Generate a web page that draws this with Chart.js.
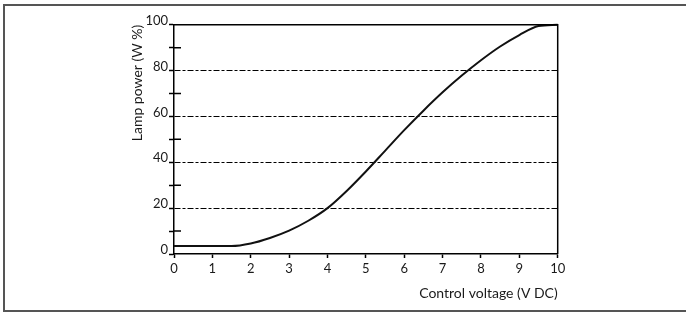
<!DOCTYPE html>
<html>
<head>
<meta charset="utf-8">
<script src="https://cdn.jsdelivr.net/npm/chart.js@4.4.1/dist/chart.umd.min.js"></script>
<style>
  body { margin: 0; background: #fff; }
  #wrap { position: relative; width: 686px; height: 313px; }
  #frame {
    position: absolute; left: 3px; top: 4px; width: 683px; height: 304px;
    border-left: 2px solid #555; border-top: 2px solid #555; border-bottom: 2px solid #555;
    pointer-events: none;
  }
</style>
</head>
<body>
<div id="wrap">
  <canvas id="myChart" width="686" height="313"></canvas>
  <div id="frame"></div>
</div>
<script>
  // data
  const voltage = [0, 1, 1.5, 2, 2.5, 3, 3.5, 4, 4.5, 5, 5.5, 6, 6.5, 7, 7.5, 8, 8.5, 9, 9.5, 10];
  const power = [3.5, 3.5, 3.5, 4.6, 7, 10.2, 14.5, 20, 27.5, 36, 45, 54, 62.5, 70.5, 77.8, 84.5, 90.5, 95.5, 99.4, 100];
  const gridValues = [20, 40, 60, 80];
  const xTitle = "Control voltage (V DC)";
  const yTitle = "Lamp power (W %)";

  const fontFam = "Lato, 'Open Sans', sans-serif";
  const textColor = "#1a1a1a";

  // top/right border of the plot + minor y ticks crossing the axis
  const boxPlugin = {
    id: "box",
    afterDraw(chart) {
      const { ctx, chartArea: a, scales } = chart;
      const y = scales.y;
      ctx.save();
      ctx.strokeStyle = "#000";
      ctx.lineWidth = 1.5;
      ctx.beginPath();
      ctx.moveTo(a.left, a.top);
      ctx.lineTo(a.right, a.top);
      ctx.lineTo(a.right, a.bottom);
      y.ticks.forEach(function (t) {
        if (t.value % 20 !== 0) {
          let py = y.getPixelForValue(t.value);
          ctx.moveTo(a.left, py);
          ctx.lineTo(a.left + 7, py);
        }
      });
      ctx.stroke();
      ctx.restore();
    },
  };

  let points = voltage.map(function (v, i) {
    return { x: v, y: power[i] };
  });

  let ctx = document.getElementById("myChart").getContext("2d");
  let lampChart = new Chart(ctx, {
    type: "line",
    data: {
      datasets: [
        {
          data: points,
          borderColor: "#111",
          borderWidth: 2,
          pointRadius: 0,
          cubicInterpolationMode: "monotone",
          clip: false,
        },
      ],
    },
    options: {
      responsive: false,
      animation: false,
      devicePixelRatio: 1,
      layout: { padding: { left: 128.6, right: 128.3, top: 24.7, bottom: 11.6 } },
      plugins: { legend: { display: false }, tooltip: { enabled: false } },
      scales: {
        x: {
          type: "linear",
          min: 0,
          max: 10,
          ticks: { stepSize: 1, autoSkip: false, maxRotation: 0, padding: 3, color: textColor, font: { family: fontFam, size: 13 } },
          grid: { drawOnChartArea: false, tickLength: 4, tickColor: "#000", tickWidth: 1.5 },
          border: { color: "#000", width: 1.5 },
          title: { display: true, text: xTitle, align: "end", padding: 0, color: textColor, font: { family: fontFam, size: 14 } },
          afterFit: function (s) { s.height = 47.4; },
        },
        y: {
          type: "linear",
          min: 0,
          max: 100,
          ticks: {
            stepSize: 10,
            autoSkip: false,
            padding: 1,
            labelOffset: -4,
            color: textColor,
            font: { family: fontFam, size: 13 },
            callback: function (v) { return v % 20 === 0 ? v : ""; },
          },
          grid: {
            color: function (c) { return gridValues.includes(c.tick.value) ? "#000" : "rgba(0,0,0,0)"; },
            lineWidth: 1,
            tickLength: 5,
            tickColor: "#000",
            tickWidth: 1.5,
          },
          border: { color: "#000", width: 1.5, dash: [6, 2, 3, 2] },
          title: { display: true, text: yTitle, align: "end", padding: 0, color: textColor, font: { family: fontFam, size: 14 } },
          afterFit: function (s) { s.width = 45.4; },
        },
      },
    },
    plugins: [boxPlugin],
  });
</script>
</body>
</html>
